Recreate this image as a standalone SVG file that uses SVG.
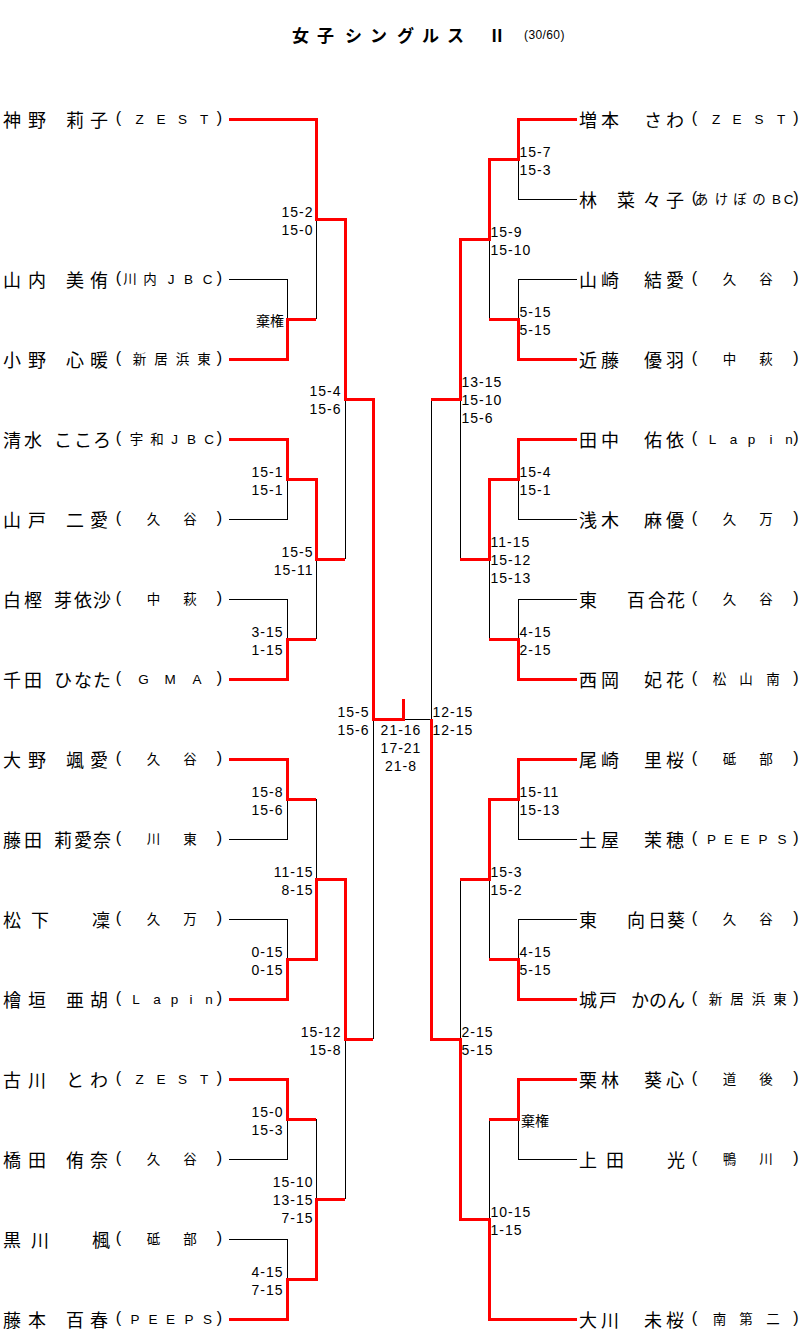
<svg xmlns="http://www.w3.org/2000/svg" width="805" height="1340" viewBox="0 0 805 1340">
<style>
.bg{fill:#fff}
.n{font-family:"Noto Sans CJK JP","Noto Sans CJK SC",sans-serif;font-size:18px;fill:#000}
.t{font-family:"Liberation Sans","Noto Sans CJK JP",sans-serif;font-size:13.5px;fill:#000;text-anchor:middle}
.t .p{font-size:16px}
.s{font-family:"Liberation Sans",sans-serif;font-size:14px;letter-spacing:1px;fill:#000}
.e{text-anchor:end}
.m{text-anchor:middle}
.k{font-family:"Noto Sans CJK JP",sans-serif;font-size:14px;fill:#000}
.blk{stroke:#000;stroke-width:1;fill:none;shape-rendering:crispEdges}
.red{stroke:#f00;stroke-width:3;fill:none;stroke-linejoin:miter;shape-rendering:crispEdges}
.ttl{font-family:"Noto Sans CJK JP",sans-serif;font-size:17px;font-weight:bold;text-anchor:middle;fill:#000}
.sub{font-family:"Liberation Sans",sans-serif;font-size:12px;fill:#000}
</style>
<rect class="bg" x="0" y="0" width="805" height="1340"/>
<g id="title">
<text class="ttl" x="300.5 325.5 353.5 378.5 405.5 430.5 455.5 497" y="42">女子シングルスⅡ</text>
<text class="sub" x="524" y="39" letter-spacing="0.4">(30/60)</text>
</g>
<g id="connectors">
<path class="blk" d="M229 279H287V319M316 219V319M229 519H287V479M229 599H287V639M316 559V639M345 399V559M229 839H287V799M229 919H287V959M316 799V879M229 1159H287V1119M229 1239H287V1279M316 1119V1199M345 1039V1199M373 719V1039M403 719H431M577 199H518V159M577 279H518V319M489 239V319M577 519H518V479M577 599H518V639M489 559V639M460 399V559M431 399V719M577 839H518V799M577 919H518V959M489 879V959M577 1159H518V1119M489 1119V1219M460 879V1039"/>
<path class="red" d="M229 119H316V219H345V399H373V719H403V699M229 359H287V319H316M229 439H287V479H316V559H345M229 679H287V639H316M229 759H287V799H316M229 999H287V959H316V879H345V1039H373M229 1079H287V1119H316M229 1319H287V1279H316V1199H345M577 119H518V159H489V239H460V399H431M577 359H518V319H489M577 439H518V479H489V559H460M577 679H518V639H489M577 759H518V799H489V879H460M577 999H518V959H489M577 1079H518V1119H489M577 1319H489V1219H460V1039H431V719"/>
</g>
<g id="scores">
<text class="s e" x="313.5" y="217">15-2</text><text class="s e" x="313.5" y="235">15-0</text>
<text class="k e" x="284" y="326">棄権</text>
<text class="s e" x="341.5" y="396">15-4</text><text class="s e" x="341.5" y="414">15-6</text>
<text class="s e" x="283.5" y="477">15-1</text><text class="s e" x="283.5" y="495">15-1</text>
<text class="s e" x="313.5" y="557">15-5</text><text class="s e" x="313.5" y="575">15-11</text>
<text class="s e" x="283.5" y="637">3-15</text><text class="s e" x="283.5" y="655">1-15</text>
<text class="s e" x="369.5" y="717">15-5</text><text class="s e" x="369.5" y="735">15-6</text>
<text class="s e" x="283.5" y="797">15-8</text><text class="s e" x="283.5" y="815">15-6</text>
<text class="s e" x="313.5" y="877">11-15</text><text class="s e" x="313.5" y="895">8-15</text>
<text class="s e" x="283.5" y="957">0-15</text><text class="s e" x="283.5" y="975">0-15</text>
<text class="s e" x="341.5" y="1037">15-12</text><text class="s e" x="341.5" y="1055">15-8</text>
<text class="s e" x="283.5" y="1117">15-0</text><text class="s e" x="283.5" y="1135">15-3</text>
<text class="s e" x="313.5" y="1187">15-10</text><text class="s e" x="313.5" y="1205">13-15</text><text class="s e" x="313.5" y="1223">7-15</text>
<text class="s e" x="283.5" y="1277">4-15</text><text class="s e" x="283.5" y="1295">7-15</text>
<text class="s m" x="401" y="735">21-16</text><text class="s m" x="401" y="753">17-21</text><text class="s m" x="401" y="771">21-8</text>
<text class="s" x="519.5" y="157">15-7</text><text class="s" x="519.5" y="175">15-3</text>
<text class="s" x="490.5" y="237">15-9</text><text class="s" x="490.5" y="255">15-10</text>
<text class="s" x="519.5" y="317">5-15</text><text class="s" x="519.5" y="335">5-15</text>
<text class="s" x="461.5" y="387">13-15</text><text class="s" x="461.5" y="405">15-10</text><text class="s" x="461.5" y="423">15-6</text>
<text class="s" x="519.5" y="477">15-4</text><text class="s" x="519.5" y="495">15-1</text>
<text class="s" x="490.5" y="547">11-15</text><text class="s" x="490.5" y="565">15-12</text><text class="s" x="490.5" y="583">15-13</text>
<text class="s" x="519.5" y="637">4-15</text><text class="s" x="519.5" y="655">2-15</text>
<text class="s" x="432.5" y="717">12-15</text><text class="s" x="432.5" y="735">12-15</text>
<text class="s" x="519.5" y="797">15-11</text><text class="s" x="519.5" y="815">15-13</text>
<text class="s" x="490.5" y="877">15-3</text><text class="s" x="490.5" y="895">15-2</text>
<text class="s" x="519.5" y="957">4-15</text><text class="s" x="519.5" y="975">5-15</text>
<text class="s" x="461.5" y="1037">2-15</text><text class="s" x="461.5" y="1055">5-15</text>
<text class="k" x="521" y="1126">棄権</text>
<text class="s" x="490.5" y="1217">10-15</text><text class="s" x="490.5" y="1235">1-15</text>
</g>
<g id="p-L01"><text class="n" x="3 28 48 66 90" y="127">神野　莉子</text><text class="t" x="118.5 139.5 161 182.5 204 219.5" y="122.5 124 124 124 124 122.5"><tspan class="p">(</tspan>ZEST<tspan class="p">)</tspan></text></g>
<g id="p-L02"><text class="n" x="3 28 48 66 90" y="287">山内　美侑</text><text class="t" x="118.5 130 150 171 188.5 207.5 219.5" y="282.5 284 284 284 284 284 282.5"><tspan class="p">(</tspan>川内JBC<tspan class="p">)</tspan></text></g>
<g id="p-L03"><text class="n" x="3 28 48 66 90" y="367">小野　心暖</text><text class="t" x="118.5 139.5 161 182.5 204 219.5" y="362.5 364 364 364 364 362.5"><tspan class="p">(</tspan>新居浜東<tspan class="p">)</tspan></text></g>
<g id="p-L04"><text class="n" x="3 24 40 54 74 93" y="447">清水　こころ</text><text class="t" x="118.5 136.5 157 174.5 191.5 209 219.5" y="442.5 444 444 444 444 444 442.5"><tspan class="p">(</tspan>宇和JBC<tspan class="p">)</tspan></text></g>
<g id="p-L05"><text class="n" x="3 28 48 66 90" y="527">山戸　二愛</text><text class="t" x="118.5 153.5 190 219.5" y="522.5 524 524 522.5"><tspan class="p">(</tspan>久谷<tspan class="p">)</tspan></text></g>
<g id="p-L06"><text class="n" x="3 24 40 54 74 93" y="607">白樫　芽依沙</text><text class="t" x="118.5 153.5 190 219.5" y="602.5 604 604 602.5"><tspan class="p">(</tspan>中萩<tspan class="p">)</tspan></text></g>
<g id="p-L07"><text class="n" x="3 24 40 54 74 93" y="687">千田　ひなた</text><text class="t" x="118.5 143.5 170 197 219.5" y="682.5 684 684 684 682.5"><tspan class="p">(</tspan>GMA<tspan class="p">)</tspan></text></g>
<g id="p-L08"><text class="n" x="3 28 48 66 90" y="767">大野　颯愛</text><text class="t" x="118.5 153.5 190 219.5" y="762.5 764 764 762.5"><tspan class="p">(</tspan>久谷<tspan class="p">)</tspan></text></g>
<g id="p-L09"><text class="n" x="3 24 40 54 74 93" y="847">藤田　莉愛奈</text><text class="t" x="118.5 153.5 190 219.5" y="842.5 844 844 842.5"><tspan class="p">(</tspan>川東<tspan class="p">)</tspan></text></g>
<g id="p-L10"><text class="n" x="3 31 60 92" y="927">松下　凜</text><text class="t" x="118.5 153.5 190 219.5" y="922.5 924 924 922.5"><tspan class="p">(</tspan>久万<tspan class="p">)</tspan></text></g>
<g id="p-L11"><text class="n" x="3 28 48 66 90" y="1007">檜垣　亜胡</text><text class="t" x="118.5 136 157 174.5 191 209 219.5" y="1002.5 1004 1004 1004 1004 1004 1002.5"><tspan class="p">(</tspan>Lapin<tspan class="p">)</tspan></text></g>
<g id="p-L12"><text class="n" x="3 28 48 66 90" y="1087">古川　とわ</text><text class="t" x="118.5 139.5 161 182.5 204 219.5" y="1082.5 1084 1084 1084 1084 1082.5"><tspan class="p">(</tspan>ZEST<tspan class="p">)</tspan></text></g>
<g id="p-L13"><text class="n" x="3 28 48 66 90" y="1167">橋田　侑奈</text><text class="t" x="118.5 153.5 190 219.5" y="1162.5 1164 1164 1162.5"><tspan class="p">(</tspan>久谷<tspan class="p">)</tspan></text></g>
<g id="p-L14"><text class="n" x="3 31 60 92" y="1247">黒川　楓</text><text class="t" x="118.5 153.5 190 219.5" y="1242.5 1244 1244 1242.5"><tspan class="p">(</tspan>砥部<tspan class="p">)</tspan></text></g>
<g id="p-L15"><text class="n" x="3 28 48 66 90" y="1327">藤本　百春</text><text class="t" x="118.5 135 153 170.5 189 207.5 219.5" y="1322.5 1324 1324 1324 1324 1324 1322.5"><tspan class="p">(</tspan>PEEPS<tspan class="p">)</tspan></text></g>
<g id="p-R01"><text class="n" x="579 601 622 644 666" y="127">増本　さわ</text><text class="t" x="694.5 716 737 759 781 796" y="122.5 124 124 124 124 122.5"><tspan class="p">(</tspan>ZEST<tspan class="p">)</tspan></text></g>
<g id="p-R02"><text class="n" x="579 598 617 643 666" y="207">林　菜々子</text><text class="t" x="694.5 701.5 721.5 740 759 776.5 788.5 796" y="202.5 204 204 204 204 204 204 202.5"><tspan class="p">(</tspan>あけぼのBC<tspan class="p">)</tspan></text></g>
<g id="p-R03"><text class="n" x="579 601 622 644 666" y="287">山崎　結愛</text><text class="t" x="694.5 729.5 766 796" y="282.5 284 284 282.5"><tspan class="p">(</tspan>久谷<tspan class="p">)</tspan></text></g>
<g id="p-R04"><text class="n" x="579 601 622 644 666" y="367">近藤　優羽</text><text class="t" x="694.5 729.5 766 796" y="362.5 364 364 362.5"><tspan class="p">(</tspan>中萩<tspan class="p">)</tspan></text></g>
<g id="p-R05"><text class="n" x="579 601 622 644 666" y="447">田中　佑依</text><text class="t" x="694.5 712.5 733.5 751.5 771 789 796" y="442.5 444 444 444 444 444 442.5"><tspan class="p">(</tspan>Lapin<tspan class="p">)</tspan></text></g>
<g id="p-R06"><text class="n" x="579 601 622 644 666" y="527">浅木　麻優</text><text class="t" x="694.5 729.5 766 796" y="522.5 524 524 522.5"><tspan class="p">(</tspan>久万<tspan class="p">)</tspan></text></g>
<g id="p-R07"><text class="n" x="579 603 627 648 667" y="607">東　百合花</text><text class="t" x="694.5 729.5 766 796" y="602.5 604 604 602.5"><tspan class="p">(</tspan>久谷<tspan class="p">)</tspan></text></g>
<g id="p-R08"><text class="n" x="579 601 622 644 666" y="687">西岡　妃花</text><text class="t" x="694.5 719.5 746 773 796" y="682.5 684 684 684 682.5"><tspan class="p">(</tspan>松山南<tspan class="p">)</tspan></text></g>
<g id="p-R09"><text class="n" x="579 601 622 644 666" y="767">尾崎　里桜</text><text class="t" x="694.5 729.5 766 796" y="762.5 764 764 762.5"><tspan class="p">(</tspan>砥部<tspan class="p">)</tspan></text></g>
<g id="p-R10"><text class="n" x="579 601 622 644 666" y="847">土屋　茉穂</text><text class="t" x="694.5 711.5 728.5 745 763 782 796" y="842.5 844 844 844 844 844 842.5"><tspan class="p">(</tspan>PEEPS<tspan class="p">)</tspan></text></g>
<g id="p-R11"><text class="n" x="579 603 627 648 667" y="927">東　向日葵</text><text class="t" x="694.5 729.5 766 796" y="922.5 924 924 922.5"><tspan class="p">(</tspan>久谷<tspan class="p">)</tspan></text></g>
<g id="p-R12"><text class="n" x="579 599 615 631 649 667" y="1007">城戸　かのん</text><text class="t" x="694.5 715.5 737 758.5 780 796" y="1002.5 1004 1004 1004 1004 1002.5"><tspan class="p">(</tspan>新居浜東<tspan class="p">)</tspan></text></g>
<g id="p-R13"><text class="n" x="579 601 622 644 666" y="1087">栗林　葵心</text><text class="t" x="694.5 729.5 766 796" y="1082.5 1084 1084 1082.5"><tspan class="p">(</tspan>道後<tspan class="p">)</tspan></text></g>
<g id="p-R14"><text class="n" x="579 606 636 667" y="1167">上田　光</text><text class="t" x="694.5 729.5 766 796" y="1162.5 1164 1164 1162.5"><tspan class="p">(</tspan>鴨川<tspan class="p">)</tspan></text></g>
<g id="p-R15"><text class="n" x="579 601 622 644 666" y="1327">大川　未桜</text><text class="t" x="694.5 719.5 746 773 796" y="1322.5 1324 1324 1324 1322.5"><tspan class="p">(</tspan>南第二<tspan class="p">)</tspan></text></g>
</svg>
